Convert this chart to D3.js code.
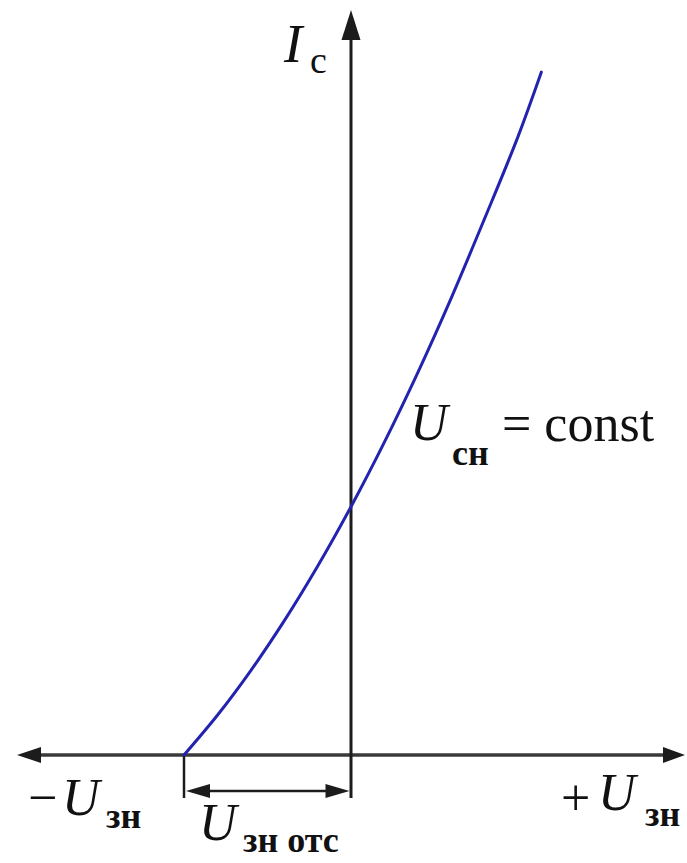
<!DOCTYPE html>
<html>
<head>
<meta charset="utf-8">
<script src="https://cdn.jsdelivr.net/npm/d3@7"></script>
<style>
  html, body { margin: 0; padding: 0; background: #fff; }
  svg { display: block; }
  text { font-family: "Liberation Serif", "Times New Roman", serif; fill: #111; }
</style>
</head>
<body>
<script>
// Transfer characteristic of a field-effect transistor: drain current vs gate–source voltage
const gateVoltage  = [-1.0, -0.8, -0.6, -0.4, -0.2, 0.0, 0.2, 0.4, 0.6, 0.8, 1.0, 1.14];
const drainCurrent = [0.0, 0.16, 0.34, 0.54, 0.76, 1.0, 1.26, 1.54, 1.84, 2.16, 2.49, 2.75];
const cutoffVoltage = -1.0;
const xDomain = [-2, 2];
const yDomain = [0, 3];

const W = 687, H = 863;
const svg = d3.select("body").append("svg").attr("width", W).attr("height", H);

const x = d3.scaleLinear().domain(xDomain).range([17, 685]);
const y = d3.scaleLinear().domain(yDomain).range([755, 10]);

const axisColor = "#1c1c1c";

// filled triangular arrowhead with its tip at (tx, ty), pointing along angle (radians)
function arrowHead(tx, ty, angle, len, half) {
  const bx = tx - len * Math.cos(angle), by = ty - len * Math.sin(angle);
  const nx = -Math.sin(angle), ny = Math.cos(angle);
  return `M${tx},${ty}L${bx + nx * half},${by + ny * half}L${bx - nx * half},${by - ny * half}Z`;
}

const x0 = x(0), y0 = y(0);
const dimY = 791, dimBottom = 798;

// horizontal axis (gate–source voltage), arrows at both ends
svg.append("line")
  .attr("x1", x(xDomain[0]) + 10).attr("x2", x(xDomain[1]) - 10)
  .attr("y1", y0).attr("y2", y0)
  .attr("stroke", "#3a3a3a").attr("stroke-width", 3.5);
svg.append("path").attr("d", arrowHead(x(xDomain[0]), y0, Math.PI, 24, 8)).attr("fill", axisColor);
svg.append("path").attr("d", arrowHead(x(xDomain[1]), y0, 0, 22, 8)).attr("fill", axisColor);

// vertical axis (drain current), extended below as a dimension line
svg.append("line")
  .attr("x1", x0).attr("x2", x0)
  .attr("y1", dimBottom).attr("y2", y(yDomain[1]) + 12)
  .attr("stroke", axisColor).attr("stroke-width", 3);
svg.append("path").attr("d", arrowHead(x0, y(yDomain[1]), -Math.PI / 2, 30, 9.5)).attr("fill", axisColor);

// cutoff voltage marker and dimension arrow
const xc = x(cutoffVoltage);
svg.append("line")
  .attr("x1", xc).attr("x2", xc).attr("y1", y0).attr("y2", dimBottom)
  .attr("stroke", axisColor).attr("stroke-width", 2.5);
svg.append("line")
  .attr("x1", xc + 10).attr("x2", x0 - 10).attr("y1", dimY).attr("y2", dimY)
  .attr("stroke", axisColor).attr("stroke-width", 2.5);
svg.append("path").attr("d", arrowHead(xc + 2, dimY, Math.PI, 24, 7)).attr("fill", axisColor);
svg.append("path").attr("d", arrowHead(x0 - 1.5, dimY, 0, 24, 7)).attr("fill", axisColor);

// characteristic curve
const pts = gateVoltage.map((u, i) => [u, drainCurrent[i]]);
svg.append("path")
  .attr("d", d3.line().x(d => x(d[0])).y(d => y(d[1])).curve(d3.curveCatmullRom.alpha(0.5))(pts))
  .attr("fill", "none").attr("stroke", "#2323b0").attr("stroke-width", 3)
  .attr("stroke-linecap", "round");

// labels
function label(tx, ty, str, size, opts = {}) {
  return svg.append("text").attr("x", tx).attr("y", ty)
    .attr("font-size", size)
    .attr("font-style", opts.italic ? "italic" : "normal")
    .attr("font-weight", opts.bold ? "bold" : "normal")
    .text(str);
}

const mainSize = 52, subSize = 36;

// I_с
label(284, 62, "I", 55, { italic: true });
label(310, 73, "с", 38);

// −U_зн
label(28, 815, "−", mainSize);
label(62, 815, "U", mainSize, { italic: true });
label(106, 828, "зн", subSize, { bold: true });

// +U_зн
label(561, 815, "+", mainSize);
label(598, 810, "U", mainSize, { italic: true });
label(645, 826, "зн", subSize, { bold: true });

// U_зн отс
label(199, 840, "U", mainSize, { italic: true });
label(243, 852, "зн отс", subSize, { bold: true });

// U_сн = const
label(410, 440, "U", mainSize, { italic: true });
label(452, 465, "сн", subSize, { bold: true });
label(502, 441, "= const", mainSize);
</script>
</body>
</html>
